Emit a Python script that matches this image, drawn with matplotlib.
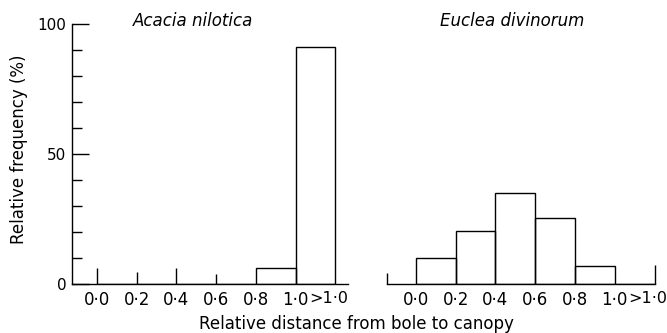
import matplotlib
matplotlib.use("Agg")
import matplotlib.pyplot as plt
import numpy as np

plt.rcParams['font.family'] = ['DejaVu Sans']

# ---- data ----
bins = ["0·0", "0·2", "0·4", "0·6", "0·8", ">1·0"]          # lower edge of each class
tick_labels = ["0·0", "0·2", "0·4", "0·6", "0·8", "1·0", ">1·0"]
acacia = [0, 0, 0, 0, 6, 91]          # Relative frequency (%)
euclea = [10, 20.5, 35, 25.5, 7, 0]   # Relative frequency (%)
titles = ["Acacia nilotica", "Euclea divinorum"]
ylabel = "Relative frequency (%)"
xlabel = "Relative distance from bole to canopy"

W, H = 667, 333
fig = plt.figure(figsize=(W / 100, H / 100), dpi=100)

def px_axes(x0, x1, y_top, y_bot):
    return fig.add_axes([x0 / W, 1 - y_bot / H, (x1 - x0) / W, (y_bot - y_top) / H])

ax1 = px_axes(72, 348, 24, 284)
ax2 = px_axes(387, 655, 24, 284)

lw = 1.0
label_pos = [0, 1, 2, 3, 4, 5, 5.83]
x = np.arange(len(bins))

for ax, vals, title, xl in [(ax1, acacia, titles[0], (-0.63, 6.32)),
                            (ax2, euclea, titles[1], (-0.73, 6.02))]:
    ax.xaxis.remove_overlapping_locs = False
    ax.bar(x, vals, width=1.0, align='edge', fill=False, edgecolor='black', linewidth=lw)
    ax.set_xlim(*xl)
    ax.set_ylim(0, 100)
    for s in ['top', 'right']:
        ax.spines[s].set_visible(False)
    ax.spines['bottom'].set_linewidth(lw)
    ax.spines['left'].set_linewidth(lw)
    ax.set_xticks(label_pos, tick_labels, fontsize=12)
    ax.get_xticklabels()[-1].set_fontsize(11.5)
    ax.tick_params(axis='x', which='major', length=0, pad=5)
    ax.text(2.42, 101.2, title, style='italic', fontsize=12, ha='center', va='center',
            clip_on=False)

# left panel y axis
ax1.set_yticks([0, 50, 100], ["0", "50", "100"], fontsize=11)
ax1.set_yticks(np.arange(10, 100, 10), minor=True)
ax1.tick_params(axis='y', which='major', direction='in', length=12.5, width=lw, pad=4)
ax1.tick_params(axis='y', which='minor', direction='in', length=7.2, width=lw)
ax1.set_ylabel(ylabel, fontsize=12)
ax1.yaxis.set_label_coords(-0.16, 0.517)

# small marks along the left panel baseline
ax1.set_xticks([0, 1, 2, 3], minor=True)
ax1.tick_params(axis='x', which='minor', direction='in', length=8, width=lw)
for t, L in zip(ax1.xaxis.get_minor_ticks(), [11.5, 8.6, 11.2, 7.2]):
    t.tick1line.set_markersize(L)

# right panel: only baseline with end marks
ax2.spines['left'].set_visible(False)
ax2.set_yticks([])
ax2.set_xticks(list(ax2.get_xlim()), minor=True)
ax2.tick_params(axis='x', which='minor', direction='in', length=8, width=lw)
for t, L in zip(ax2.xaxis.get_minor_ticks(), [7.9, 13.7]):
    t.tick1line.set_markersize(L)

fig.text(356 / W, 1 - 329 / H, xlabel, fontsize=12, ha='center', va='baseline')

fig.savefig("out.png", dpi=100)
